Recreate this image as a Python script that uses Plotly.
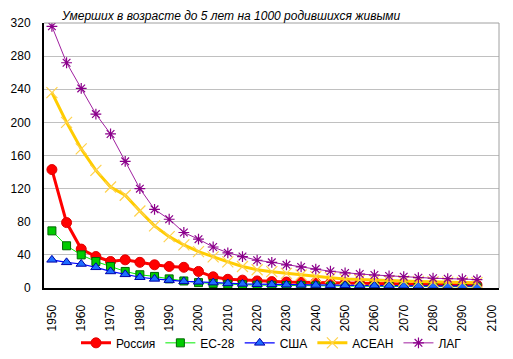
import plotly.graph_objects as go

years = list(range(1950, 2100, 5))

russia = [143, 79, 47, 38, 32, 34, 31, 28, 26, 25, 20, 13.5, 10.5, 9.5, 8.5, 7.7, 7.2, 6.8, 6.4, 6.0,
          5.7, 5.4, 5.1, 4.8, 4.6, 4.4, 4.2, 4.0, 3.8, 3.6]
eu28 = [69, 51, 40, 32, 26, 20, 16, 14, 11, 8.5, 6.5, 5.5, 4.5, 4.0, 3.5, 3.2, 3.0, 2.8, 2.6, 2.4,
        2.3, 2.2, 2.1, 2.0, 1.9, 1.8, 1.7, 1.6, 1.5, 1.4]
usa = [34, 31, 29, 25, 20, 16.5, 13, 11, 9.5, 8, 7.5, 6.5, 5.5, 5.0, 4.6, 4.3, 4.0, 3.8, 3.6, 3.4,
       3.2, 3.0, 2.9, 2.8, 2.7, 2.6, 2.5, 2.4, 2.3, 2.2]
asean = [236, 200, 168, 142, 122, 112, 93, 75, 62, 52, 44, 37.5, 31.5, 26, 22, 19.7, 17.7, 15.7, 13.7, 12.5,
         10.8, 10, 9.5, 9, 8.5, 8, 7.5, 7.1, 6.8, 6.4]
lag = [316, 272, 241, 210, 186, 153, 120, 95, 83, 67, 59, 49.5, 42.5, 38, 33.5, 31, 28, 25.5, 22.8, 20.2,
       18.2, 16.9, 15.7, 14.5, 13.7, 12.5, 11.8, 11.3, 10.9, 10.2]

names = ["Россия", "ЕС-28", "США", "АСЕАН", "ЛАГ"]
title_text = "Умерших в возрасте до 5 лет на 1000 родившихся живыми"

fig = go.Figure()
fig.add_trace(go.Scatter(x=years, y=russia, name=names[0], mode="lines+markers",
                         line=dict(color="#FF0000", width=3),
                         marker=dict(symbol="circle", size=10, color="#FF0000",
                                     line=dict(color="#E00000", width=1))))
fig.add_trace(go.Scatter(x=years, y=eu28, name=names[1], mode="lines+markers",
                         line=dict(color="#00EE00", width=1),
                         marker=dict(symbol="square", size=8, color="#00CC00",
                                     line=dict(color="#006600", width=1))))
fig.add_trace(go.Scatter(x=years, y=usa, name=names[2], mode="lines+markers",
                         line=dict(color="#0000FF", width=1.2),
                         marker=dict(symbol="triangle-up", size=9, color="#1E6EFF",
                                     line=dict(color="#0000AA", width=1))))
fig.add_trace(go.Scatter(x=years, y=asean, name=names[3], mode="lines+markers",
                         line=dict(color="#FFCC00", width=3),
                         marker=dict(symbol="x-thin-open", size=11, color="#FFD24D",
                                     line=dict(color="#FFD24D", width=1.2))))
fig.add_trace(go.Scatter(x=years, y=lag, name=names[4], mode="lines+markers",
                         line=dict(color="#A020A0", width=1),
                         marker=dict(symbol="asterisk-open", size=9, color="#8B008B",
                                     line=dict(color="#8B008B", width=1.2))))

font_family = "Liberation Sans, Arial, sans-serif"

# page body has an 8px margin, so figure coordinates are offset by 8px
W, H = 505, 351

fig.update_layout(
    width=W, height=H,
    margin=dict(l=36, r=14, t=15, b=71, autoexpand=False),
    paper_bgcolor="white", plot_bgcolor="white",
    font=dict(family=font_family, size=12, color="black"),
    title=dict(text="<i>" + title_text + "</i>", xref="container", yref="container",
               x=54 / W, xanchor="left", y=1 - 7.5 / H, yanchor="middle",
               font=dict(family=font_family, size=12, color="black")),
    showlegend=True,
    legend=dict(orientation="h", x=0.5, xanchor="center", y=-0.207, yanchor="middle",
                font=dict(size=12), tracegroupgap=0,
                bgcolor="rgba(0,0,0,0)"),
    xaxis=dict(range=[1947.3, 2102.5], tickmode="linear", tick0=1950, dtick=10,
               tickangle=-90, showgrid=False, zeroline=False, automargin=False,
               showline=True, linecolor="black", linewidth=2,
               ticks="", ticklabelstandoff=10, tickfont=dict(size=12)),
    yaxis=dict(range=[0, 320], tickmode="linear", tick0=0, dtick=40,
               showgrid=True, gridcolor="#C0C0C0", gridwidth=1, zeroline=False, automargin=False,
               showline=True, linecolor="black", linewidth=2,
               ticks="", ticklabelstandoff=9, tickfont=dict(size=12)),
    shapes=[
        dict(type="line", xref="paper", yref="paper", x0=0, x1=1, y0=1, y1=1,
             line=dict(color="#A0A0A0", width=1)),
        dict(type="line", xref="paper", yref="paper", x0=1, x1=1, y0=0, y1=1,
             line=dict(color="#A0A0A0", width=1)),
    ],
)

fig.write_html("out.html")
